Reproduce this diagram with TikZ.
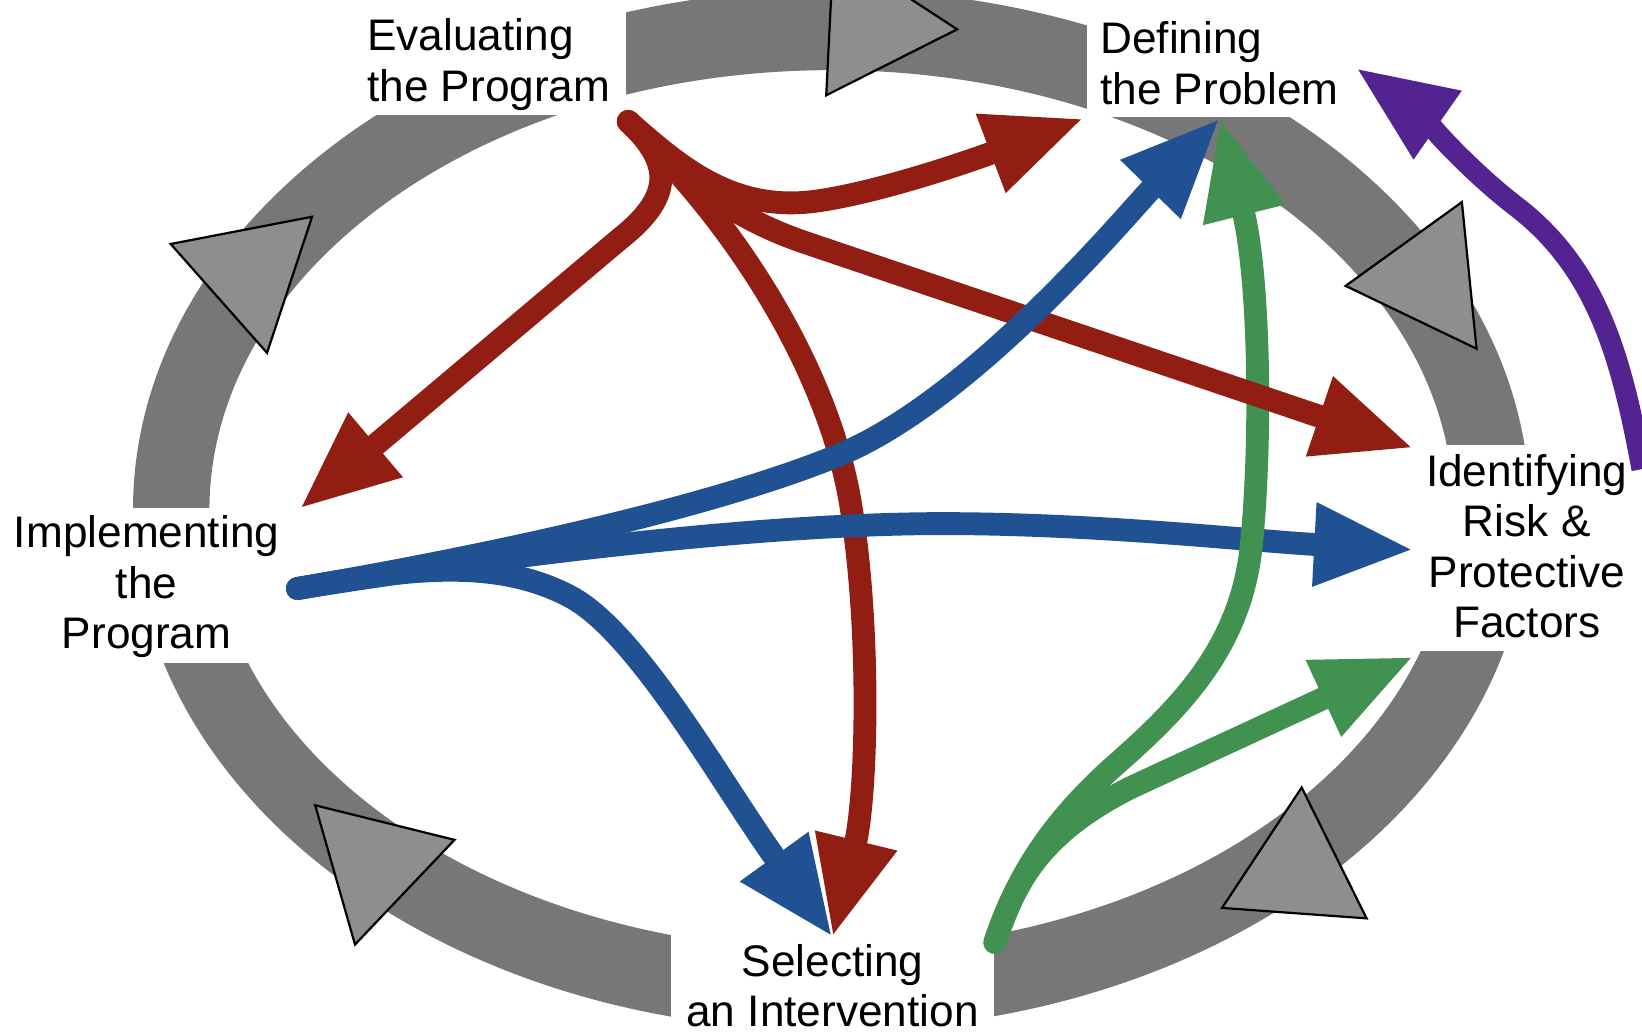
\documentclass[tikz,border=0pt]{standalone}
\usepackage{fontspec}
\setmainfont{Liberation Sans}
\usetikzlibrary{arrows.meta}
\definecolor{ringgray}{HTML}{777777}
\definecolor{markgray}{HTML}{8E8E8E}
\definecolor{flowred}{HTML}{911D13}
\definecolor{flowblue}{HTML}{1F5193}
\definecolor{flowgreen}{HTML}{419150}
\definecolor{flowpurple}{HTML}{532392}
\tikzset{
  marker/.style={fill=markgray, draw=black, line width=0.6pt, line join=miter},
  phase/.style={font=\fontsize{12}{13.7}\selectfont, inner sep=0pt, text=black},
  flow/.style={line width=6.2pt, line cap=round,
    -{Triangle[length=0.95cm,width=0.74cm]}},
  redflow/.style={flow, draw=flowred},
  blueflow/.style={flow, draw=flowblue},
  greenflow/.style={flow, draw=flowgreen},
  purpleflow/.style={flow, draw=flowpurple, line width=5.7pt, line cap=butt}
}
\begin{document}
\begin{tikzpicture}[x=0.01cm, y=-0.01cm]
\useasboundingbox (0,0) rectangle (1568,985);
\clip (0,0) rectangle (1568,985);

% the grey cycle band
\fill[ringgray, even odd rule]
  (794,487) ellipse [x radius=667, y radius=497]
  (794,487) ellipse [x radius=594, y radius=420];

% direction markers on the band
\filldraw[marker] (796,-49) -- (914,28) -- (789,91) -- cycle;
\filldraw[marker] (1396,193) -- (1410,333) -- (1285,273) -- cycle;
\filldraw[marker] (1243,752) -- (1305,877) -- (1167,867) -- cycle;
\filldraw[marker] (301,769) -- (434,802) -- (339,902) -- cycle;
\filldraw[marker] (163,233) -- (298,207) -- (255,337) -- cycle;

% white gaps in the band behind the phase names
\fill[white] (330,-5) rectangle (598,110);
\fill[white] (1038,-5) rectangle (1300,112);
\fill[white] (1345,425) rectangle (1575,622);
\fill[white] (-5,485) rectangle (278,633);
\fill[white] (641,885) rectangle (949,990);

% phase names
\node[phase, anchor=north west, align=left] (eval) at (350,17) {Evaluating\\the Program};
\node[phase, anchor=north west, align=left] (def) at (1050,20) {Defining\\the Problem};
\node[phase, anchor=north, align=center] (risk) at (1458,433) {Identifying\\Risk \&\\Protective\\Factors};
\node[phase, anchor=north, align=center] (impl) at (140,492) {Implementing\\the\\Program};
\node[phase, anchor=north, align=center] (sel) at (795,901) {Selecting\\an Intervention};

% start and end points of the flows
\coordinate (rs) at (600,116);
\coordinate (bs) at (284,562);
\coordinate (gs) at (950,900);
\coordinate (ps) at (1568,448);
\coordinate (defA) at (1035,113);
\coordinate (defB) at (1165,113);
\coordinate (riskA) at (1350,428);
\coordinate (riskB) at (1350,525);
\coordinate (riskC) at (1350,627);
\coordinate (implT) at (286,486);
\coordinate (selT) at (795,895);
\coordinate (purT) at (1295,65);

% flows
\draw[redflow] (rs) .. controls (650,160) and (700,203) .. (780,192)
  .. controls (850,182) and (950,145) .. (defA);
\draw[redflow] (rs) .. controls (645,158) and (640,190) .. (592,228) -- (implT);
\draw[redflow] (rs) .. controls (700,210) and (790,350) .. (812,480)
  .. controls (832,600) and (828,760) .. (selT);
\draw[blueflow] (bs) .. controls (380,545) and (470,530) .. (545,570)
  .. controls (610,605) and (690,750) .. (selT);
\draw[blueflow] (bs) .. controls (420,540) and (700,500) .. (900,500)
  .. controls (1050,500) and (1200,517) .. (riskB);
\draw[greenflow] (gs) .. controls (970,840) and (995,795) .. (1080,752) -- (riskC);
\draw[greenflow] (gs) .. controls (970,840) and (1000,790) .. (1060,735)
  .. controls (1125,678) and (1185,620) .. (1195,520)
  .. controls (1205,420) and (1203,265) .. (defB);
\draw[redflow] (rs) .. controls (650,165) and (690,205) .. (770,232) -- (riskA);
\draw[blueflow] (bs) .. controls (500,525) and (690,480) .. (800,435)
  .. controls (930,382) and (1080,200) .. (defB);
\draw[purpleflow] (ps) .. controls (1548,340) and (1525,255) .. (1445,195)
  .. controls (1400,160) and (1345,100) .. (purT);
\end{tikzpicture}
\end{document}
